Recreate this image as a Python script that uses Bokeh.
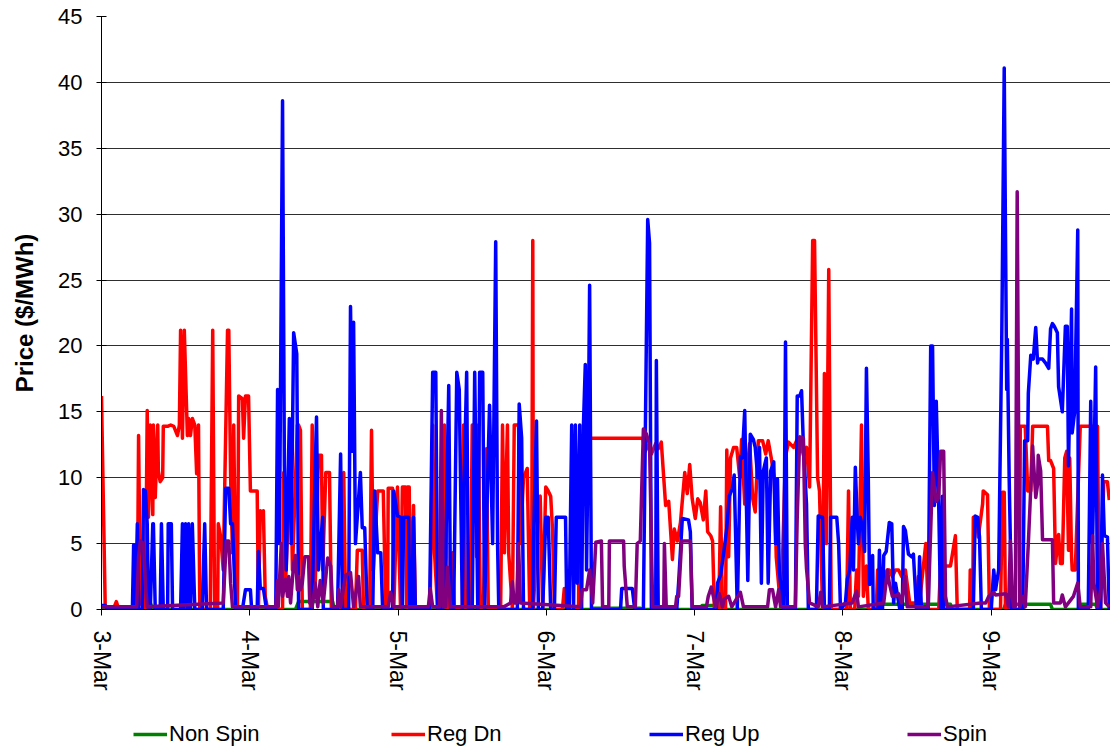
from bokeh.plotting import figure
from bokeh.layouts import column
from bokeh.models import Range1d, FixedTicker, Legend, LegendItem, ColumnDataSource
from bokeh.embed import file_html
from bokeh.resources import INLINE

# ---------------- data (hours since 3-Mar 00:00, price $/MWh) ----------------
day_labels = ["3-Mar", "4-Mar", "5-Mar", "6-Mar", "7-Mar", "8-Mar", "9-Mar"]
y_ticks = [0, 5, 10, 15, 20, 25, 30, 35, 40, 45]
series_names = ["Non Spin", "Reg Dn", "Reg Up", "Spin"]

non_spin = [(0.0,0),(5.7,0),(6.0,0.5),(7.9,0.5),(8.3,0),(31.4,0),(31.9,0.6),(37.4,0.6),(37.7,0),
            (79.1,0),(79.5,0.1),(87.2,0.1),(87.6,0),(96.9,0),(97.2,0.3),(100.2,0.3),(100.5,0),
            (126.1,0),(126.4,0.4),(137.4,0.4),(137.7,0),(146.0,0),(146.3,0.4),(148.7,0.4),(149.1,0.1),
            (149.7,0.4),(153.6,0.4),(153.9,0),(158.4,0),(158.7,0.4),(160.9,0.4),(161.2,0),(163.1,0)]

reg_dn = [(0.0,16.2),(0.6,0.2),(1.9,0),(2.4,0.6),(2.8,0),(5.8,0),(6.0,13.2),(6.3,0.5),(7.1,0),(7.4,15.1),
          (7.6,7),(7.9,14),(8.3,7.2),(8.4,14),(8.7,8.5),(9.1,14),(9.2,10.5),(9.5,9.7),(9.9,10),(10.0,13.9),
          (10.7,13.9),(11.2,14),(11.7,13.9),(12.3,13.2),(12.6,14),(12.8,21.2),(13.1,13),(13.4,21.2),(13.9,13.2),
          (14.1,14.5),(14.4,13.2),(14.7,14.5),(15.1,14),(15.4,10.3),(15.7,14),(15.9,0),(17.6,0),(18.0,21.2),
          (18.3,0),(18.8,0),(18.9,6.5),(19.3,5.5),(19.7,3),(20.4,21.2),(20.6,21.2),(20.9,10),(21.2,4.3),
          (21.4,14),(21.7,2),(22.0,0),(22.2,16.2),(22.8,16),(23.0,13),(23.3,16.2),(23.8,16.2),(24.1,9),
          (25.2,9),(25.4,0),(25.7,7.5),(26.1,7),(26.2,7.5),(26.5,1),(26.9,0),(29.3,0),(29.5,10.4),(29.8,2),
          (30.6,12),(30.9,3),(31.7,14),(31.9,14),(32.2,13.6),(32.5,0),(33.8,0),(34.1,14),(34.6,2),(35.1,11.7),
          (35.6,11.7),(35.8,3),(36.3,10.4),(36.9,10.4),(37.2,0),(39.0,0),(39.2,10.4),(39.5,0),(41.1,0),
          (41.4,4.5),(42.2,4.5),(42.4,0),(43.4,0),(43.7,13.6),(44.0,3),(44.7,9),(45.6,9),(46.0,0),(46.3,0),
          (46.4,9.2),(47.1,9.2),(47.3,0),(47.9,9.3),(48.4,0),(48.7,9.3),(49.2,9.3),(49.4,0),(49.5,9.3),
          (49.8,9.3),(50.0,0),(50.5,7.9),(50.8,0),(52.9,0),(53.2,0.5),(53.6,14),(53.9,4.3),(54.4,0),(55.2,0),
          (55.5,14),(56.0,0),(56.5,0),(56.8,4.3),(57.1,0),(58.4,0),(58.6,14),(58.9,0),(59.7,0),(60.0,14),
          (60.5,14),(60.7,4),(61.0,14),(61.3,0),(61.8,0),(62.3,12.2),(62.6,0),(64.6,0),(64.9,14),(65.2,4.3),
          (65.7,14),(65.9,4.3),(66.5,0),(66.8,14),(67.5,14),(67.8,5),(68.3,10),(68.9,10.7),(69.3,0),(69.6,0),
          (69.8,28),(69.9,0),(70.7,8.5),(71.0,8.6),(71.4,0),(71.9,9.3),(72.3,9),(72.7,8.6),(73.0,6),(73.3,0),
          (74.6,0),(74.9,1.6),(75.3,0),(77.2,0),(77.4,13),(87.6,13),(88.0,12),(88.5,12.5),(89.0,11.8),
          (89.7,12.6),(90.1,12.2),(90.6,12.7),(91.3,7.9),(91.8,8.2),(92.4,3.8),(92.7,6.1),(93.2,5.2),(93.7,6.6),
          (94.4,10.4),(94.8,8.8),(95.2,11),(95.6,8.4),(96.1,6.9),(96.5,8.4),(96.9,8.1),(97.4,6.8),(97.8,9),
          (98.1,5.9),(98.6,5.6),(98.9,5.2),(99.2,0),(99.9,0),(100.2,7.8),(100.5,0),(101.0,0),(101.2,12.1),
          (101.5,4),(101.8,11.5),(102.3,12.3),(102.8,12.3),(103.3,10),(103.6,12.9),(104.1,8),(104.4,10),
          (104.9,12.6),(105.4,8.4),(105.8,7.4),(106.3,12.8),(107.0,12.8),(107.5,11.8),(107.9,12.8),(108.4,11.5),
          (108.9,9.8),(109.2,4),(109.7,1.3),(110.2,3.6),(110.7,11.6),(111.2,12.7),(112.0,12.3),(112.5,12.8),
          (113.0,13),(113.6,11.7),(114.1,12.3),(114.6,9.3),(115.1,28),(115.4,28),(115.9,10),(116.2,9),(116.7,0),
          (117.0,17.9),(117.3,5),(117.7,25.8),(118.1,0),(120.6,0),(120.9,9),(121.2,0),(121.9,0),(122.2,3),
          (122.5,1),(123.0,14),(123.3,1),(123.8,3.3),(124.1,0),(125.4,0),(125.6,3),(125.9,0),(126.2,0),
          (126.6,2.5),(127.2,3),(127.5,3),(128.0,2.5),(128.5,3),(129.0,3),(129.5,2.5),(130.1,3),(130.8,0.5),
          (131.9,0.5),(132.2,2.5),(132.5,1),(133.4,5),(133.8,0),(135.5,0),(135.8,3.3),(136.6,3.3),(137.4,3.3),
          (138.2,5.6),(138.5,0),(140.5,0),(140.6,3),(141.0,0),(141.1,7),(141.6,7),(141.9,5.5),(142.6,8),
          (142.7,9),(143.4,8.7),(143.7,0),(145.5,0),(145.8,8.9),(146.1,8.9),(146.3,0),(148.6,0),(148.7,13.9),
          (149.5,13.9),(149.9,9),(150.4,9),(150.7,13.9),(153.1,13.9),(153.3,11.3),(153.6,11.3),(154.1,10.7),
          (154.4,3.5),(154.9,5.7),(155.2,3.5),(155.5,3.5),(155.9,11.5),(156.2,12),(156.5,4.5),(156.7,11.5),
          (157.0,4),(157.1,3),(157.6,3),(158.4,13.9),(161.2,13.9),(161.4,4),(161.7,0),(162.2,9.7),(162.8,9.7),
          (163.1,8.3)]

reg_up = [(0.0,0.3),(0.6,0.3),(1.0,0),(5.0,0),(5.2,4.9),(5.5,0),(5.8,6.5),(6.0,0),(6.6,0),(6.8,9.1),(7.1,9),
          (7.4,6.5),(7.6,0),(7.9,0),(8.3,6.5),(8.4,6.5),(8.7,0),(9.5,0),(9.7,6.5),(10.0,0),(10.7,0),(10.8,6.5),
          (11.3,6.5),(11.5,0),(12.8,0),(13.1,6.5),(13.3,0),(13.6,6.5),(13.9,0),(14.1,6.5),(14.4,0),(14.7,6.5),
          (15.1,0),(16.3,0),(16.7,6.5),(17.0,0),(19.7,0),(20.1,9.2),(20.6,9.2),(20.9,6.5),(21.2,6.5),(21.4,4),
          (21.7,0),(22.8,0),(23.3,1.5),(24.1,1.5),(24.3,0),(25.2,0),(25.4,4.4),(25.7,1.6),(26.2,1.6),(26.7,0),
          (28.2,0),(28.5,16.7),(28.8,5),(29.3,38.6),(29.6,10.9),(29.9,3),(30.4,14.5),(30.7,5),(31.1,21),
          (31.6,19.4),(31.9,0),(34.1,0),(34.3,5),(34.8,14.6),(35.1,3),(35.8,7),(35.9,0),(38.2,0),(38.7,11.8),
          (39.0,0),(40.0,0),(40.3,23),(40.6,12),(40.8,21.8),(41.1,5),(41.9,10.4),(42.2,6.2),(42.6,6.2),(43.0,0),
          (43.9,0),(44.2,9),(44.7,4.3),(45.2,4.3),(45.5,0),(47.1,0),(47.3,9),(47.9,7.1),(48.4,7),(48.7,0),
          (48.9,7),(49.7,7),(49.9,0),(50.2,0),(50.5,7),(50.8,0),(53.1,0),(53.6,18),(54.1,18),(54.4,0),(55.2,0),
          (55.7,4),(56.2,17),(56.5,0),(57.0,0),(57.5,18),(57.9,16.7),(58.4,0),(58.6,8),(59.1,18),(59.4,0),
          (60.0,0),(60.4,18),(60.9,0),(61.2,18),(61.7,18),(62.0,0),(62.5,10),(62.8,15.5),(63.3,5),(63.8,27.9),
          (64.1,5),(64.3,0),(67.3,0),(67.6,15.6),(68.0,13),(68.3,0),(69.8,0),(69.9,5),(70.4,14.3),(70.7,0),
          (71.4,0),(71.9,7),(72.3,7),(72.7,0),(73.3,0),(73.6,7),(75.1,7),(75.3,0),(75.7,0),(76.1,14),(76.4,0),
          (76.7,14),(77.0,2),(77.4,14),(77.7,0),(78.0,14),(78.3,18.6),(78.5,3),(78.8,14),(79.0,24.6),(79.3,0),
          (84.0,0),(84.2,1.6),(85.9,1.6),(86.3,0),(87.7,0),(88.4,29.6),(88.7,27.8),(89.0,0),(89.7,0),(89.8,18.9),
          (90.1,0),(93.1,0),(93.4,2),(94.0,6.9),(95.0,6.8),(95.3,5.9),(95.6,0),(99.5,0),(99.7,2),(100.2,2.6),
          (100.7,4.3),(101.2,6.2),(101.6,8.6),(102.1,9.2),(102.4,10.2),(102.9,0),(103.4,11.6),(103.7,11.5),
          (104.1,15.1),(104.6,2.2),(105.0,13.3),(105.5,12.9),(105.8,12.3),(106.2,10),(106.5,12.3),(106.8,2),
          (107.1,10.5),(107.6,11.5),(107.9,2),(108.3,10.5),(108.8,11.2),(109.1,5),(109.4,9.9),(109.7,3),
          (110.1,1),(110.4,0),(110.7,20.3),(111.0,0),(112.3,0),(112.6,16.2),(113.0,16.2),(113.3,16.6),
          (113.6,12.4),(114.1,8),(114.4,0),(115.7,0),(116.0,7.1),(116.7,7),(117.0,0),(117.8,0),(118.0,7),
          (119.0,7),(119.3,5),(119.6,0),(120.4,0.5),(120.7,2.3),(121.1,3),(121.5,7),(121.7,3),(122.0,10.8),
          (122.3,7),(122.5,5),(122.8,7),(123.2,6.2),(123.5,4.4),(123.8,18.3),(124.1,10),(124.3,1.9),(124.8,4.1),
          (124.9,0),(125.7,0),(125.9,4.5),(126.2,0),(126.4,0),(126.6,4.1),(127.0,4.4),(127.5,6.6),(127.9,6.5),
          (128.2,0.5),(128.5,2),(129.2,0),(129.6,0),(129.8,6.3),(130.1,6),(130.6,4.2),(131.1,4),(131.4,4.2),
          (131.9,0),(132.2,0),(132.4,4),(132.7,0),(133.8,0),(134.2,20),(134.5,20),(134.8,7.9),(135.1,15.8),
          (135.5,7.9),(135.8,0),(136.1,8.6),(136.3,0),(141.1,0),(141.4,7.1),(141.8,7),(142.1,5.5),(142.4,0),
          (144.0,0),(144.4,3),(144.7,1.5),(145.2,3),(145.7,20.5),(146.1,41.1),(146.5,16.7),(146.6,20.5),
          (146.9,10),(147.3,0),(149.1,0),(149.4,12.8),(149.9,12.8),(150.0,16.4),(150.4,19.3),(150.8,19),
          (151.2,21.4),(151.5,18.7),(151.6,19),(152.3,19),(152.8,18.7),(153.3,18.3),(153.6,21.3),(153.9,21.7),
          (154.2,21.5),(154.7,21),(154.9,16.9),(155.5,15),(156.0,21.5),(156.3,21.5),(156.5,10.9),(157.0,22.8),
          (157.1,13.4),(157.5,15),(158.0,28.8),(158.1,0),(159.7,0),(160.1,15.8),(160.4,5),(160.9,18.4),
          (161.2,0),(161.7,0),(162.0,10.2),(162.3,5.6),(162.8,5.5),(163.1,0)]

spin = [(0.0,0.2),(5.7,0.2),(6.0,4),(6.3,5.2),(6.8,5),(7.1,2),(7.4,0.2),(19.7,0.5),(20.2,5.2),(20.6,5.2),
        (20.9,2),(21.2,0.2),(28.2,0.2),(28.5,2.2),(28.6,0.2),(29.1,5),(29.3,1),(29.8,2.3),(30.1,1),(30.3,2.5),
        (30.6,0.5),(31.1,3.5),(31.4,4.1),(31.7,1.5),(31.9,2.5),(32.2,1.5),(32.5,2),(32.9,4),(33.5,4),(33.7,0.5),
        (34.1,0.2),(34.6,2),(35.0,0.2),(35.4,2.2),(35.9,0.5),(36.6,3.9),(37.1,3.3),(37.4,0.2),(38.2,0.2),
        (38.4,1.5),(38.7,0.2),(39.5,2.6),(40.3,2.8),(40.8,0.2),(41.6,2.5),(41.9,0.2),(46.4,0.2),(46.8,1.3),
        (47.3,0.2),(52.9,0.2),(53.2,1.6),(53.6,0.2),(54.7,0.2),(55.0,15.1),(55.3,0.2),(55.7,0.2),(56.0,3.2),
        (56.5,0.2),(65.1,0.2),(66.2,0.5),(66.5,2.1),(66.8,0.5),(67.2,0.5),(67.5,5),(67.8,0.5),(77.5,0.2),
        (77.8,1.5),(78.5,1.5),(79.0,3),(79.5,0.5),(80.0,5.1),(80.9,5.2),(81.1,0.2),(82.1,0.2),(82.2,5.2),
        (84.5,5.2),(84.6,3.3),(85.1,0.2),(86.4,0.2),(86.7,5),(87.2,5.2),(87.7,13.7),(88.2,13.3),(88.7,12.5),
        (89.2,0.2),(91.0,0.2),(91.1,5),(91.4,0.2),(92.9,0.2),(93.1,1),(93.4,1),(93.9,5.2),(95.3,5.2),(95.6,0.2),
        (97.9,0.2),(98.2,1),(98.7,1.7),(99.4,0.2),(100.0,1.2),(100.5,0.2),(100.8,0.8),(101.5,1),(102.0,0.2),
        (103.4,1.3),(103.9,0.2),(107.8,0.2),(108.1,1.5),(108.6,1.5),(109.1,0.2),(109.6,1.5),(109.9,0.2),
        (112.3,0.2),(112.6,7),(113.0,13.1),(113.6,13),(113.9,5),(114.1,3.1),(114.6,0.5),(116.0,0.2),(116.4,1.3),
        (116.7,0.2),(121.5,0.5),(122.2,1.4),(122.5,0.2),(126.6,0.5),(127.2,3),(127.5,2),(128.0,1),(128.8,1.1),
        (129.0,1.2),(129.5,0.5),(130.0,2.5),(130.4,0.2),(133.8,0.2),(134.5,10.4),(134.6,10),(135.1,8.2),
        (135.5,8.5),(135.8,12),(136.3,12),(136.6,1),(136.9,0.2),(142.3,0.5),(143.1,0.5),(143.6,1),(144.4,1.3),
        (144.7,1.1),(146.3,1.2),(146.8,0.2),(147.1,5.2),(147.4,1),(147.6,0.2),(147.9,0.2),(148.2,31.7),
        (148.6,0.2),(149.2,1),(149.5,0.2),(150.0,5),(150.7,12.4),(150.8,11.5),(151.2,8.5),(151.5,9.5),
        (151.6,11.7),(152.0,10.5),(152.3,5.3),(153.9,5.3),(154.1,0.5),(155.2,0.5),(155.5,1.1),(156.0,0.2),
        (157.3,1),(158.0,2),(158.4,0.2),(160.1,0.2),(160.4,5.6),(160.6,2),(161.2,0.2),(161.7,1.5),(162.0,5),
        (162.5,0.5),(163.1,0.2)]

colors = ["#008000", "#FF0000", "#0000FF", "#800080"]
LINE_W = 3.5

# ---------------- main chart ----------------
FONT = "Liberation Sans"
p = figure(width=1110, height=700, output_backend="svg", toolbar_location=None,
           x_range=Range1d(0, 163.3), y_range=Range1d(0, 45),
           min_border_left=101, min_border_right=0, min_border_top=16, min_border_bottom=91)
p.outline_line_color = None
p.background_fill_color = "white"
p.border_fill_color = "white"

for name, data, col in zip(series_names, [non_spin, reg_dn, reg_up, spin], colors):
    src = ColumnDataSource(dict(x=[d[0] for d in data], y=[d[1] for d in data]))
    p.line("x", "y", source=src, line_color=col, line_width=LINE_W, line_join="round")

p.xgrid.grid_line_color = None
p.ygrid.grid_line_color = "#2e2e2e"
p.ygrid.grid_line_width = 1
p.ygrid.ticker = FixedTicker(ticks=y_ticks)

p.yaxis.ticker = FixedTicker(ticks=y_ticks)
p.yaxis.axis_label = "Price ($/MWh)"
p.yaxis.axis_label_text_font = FONT
p.yaxis.axis_label_text_font_style = "bold"
p.yaxis.axis_label_text_font_size = "24px"
p.yaxis.axis_label_text_color = "black"
p.yaxis.axis_label_standoff = 17
p.yaxis.major_label_text_font = FONT
p.yaxis.major_label_text_font_size = "22px"
p.yaxis.major_label_text_color = "black"
p.yaxis.major_label_standoff = 14
p.yaxis.major_tick_in = 5
p.yaxis.major_tick_out = 5
p.yaxis.minor_tick_line_color = None
p.yaxis.axis_line_color = "black"
p.yaxis.major_tick_line_color = "black"

day_ticks = [24 * i for i in range(len(day_labels))]
p.xaxis.ticker = FixedTicker(ticks=day_ticks)
p.xaxis.major_label_overrides = {t: lab for t, lab in zip(day_ticks, day_labels)}
p.xaxis.major_label_orientation = "vertical"
p.xaxis.major_label_text_font = FONT
p.xaxis.major_label_text_font_size = "23px"
p.xaxis.major_label_text_color = "black"
p.xaxis.major_label_standoff = 15
p.xaxis.major_tick_in = 0
p.xaxis.major_tick_out = 6
p.xaxis.minor_tick_line_color = None
p.xaxis.axis_line_color = "black"
p.xaxis.major_tick_line_color = "black"

# ---------------- legend strip under the chart ----------------
lg = figure(width=1110, height=50, output_backend="svg", toolbar_location=None,
            x_range=Range1d(0, 1), y_range=Range1d(0, 1),
            x_axis_location=None, y_axis_location=None,
            min_border_left=0, min_border_right=0, min_border_top=0, min_border_bottom=0)
lg.outline_line_color = None
lg.xgrid.grid_line_color = None
lg.ygrid.grid_line_color = None
lg.background_fill_color = "white"
lg.border_fill_color = "white"
keys = []
for col in colors:
    # legend swatch renderers only (a single NaN point: nothing is drawn in the strip itself)
    keys.append(lg.line(x=[float("nan")], y=[float("nan")], line_color=col, line_width=LINE_W))
legend = Legend(items=[LegendItem(label=n, renderers=[r]) for n, r in zip(series_names, keys)],
                orientation="horizontal", location=(32, 3),
                label_text_font=FONT, label_text_font_size="22px", label_text_color="black",
                glyph_width=34, glyph_height=24, label_height=24, label_width=222,
                label_standoff=2, spacing=0, padding=0, margin=0,
                border_line_color=None, background_fill_alpha=0)
lg.add_layout(legend, "center")

layout = column(p, lg, spacing=0)
open("out.html", "w").write(file_html(layout, INLINE))
